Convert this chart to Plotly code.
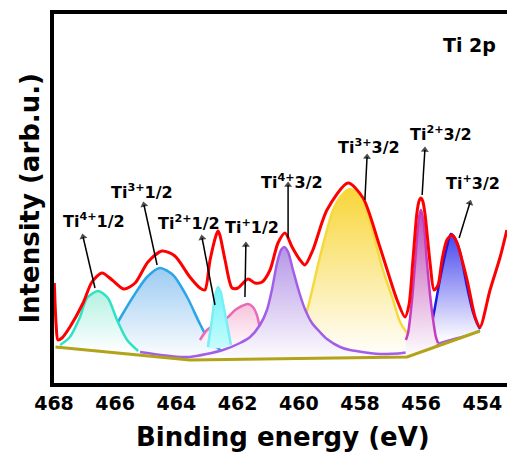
import plotly.graph_objects as go

# ---------------- data ----------------
tick_vals = [468, 466, 464, 462, 460, 458, 456, 454]
tick_text = ["468", "466", "464", "462", "460", "458", "456", "454"]

# background (olive)
bg_ev = [467.95, 463.56, 456.46, 454.08]
bg_int = [35, 22, 25, 51]

# Envelope (red)
env_ev = [467.99, 467.97, 467.93, 467.87, 467.74, 467.48, 467.05, 466.76, 466.43, 466.10,
          465.71, 465.35, 464.93, 464.47, 464.05, 463.56, 463.23, 463.07, 462.90, 462.70,
          462.64, 462.58, 462.41, 462.18, 461.99, 461.66, 461.43, 461.20, 460.94, 460.68,
          460.45, 460.22, 459.96, 459.80, 459.54, 459.08, 458.39, 457.90, 457.35, 456.79,
          456.53, 456.40, 456.27, 456.14, 456.07, 456.01, 455.95, 455.88, 455.71, 455.58,
          455.45, 455.32, 455.16, 454.99, 454.83, 454.50, 454.24, 454.08, 453.75, 453.42,
          453.20]
env_int = [99, 82, 57, 42, 44, 55, 79, 100, 109, 102,
           93, 99, 120, 131, 126, 105, 94, 92, 122, 147,
           151, 147, 122, 94, 94, 103, 99, 100, 112, 139,
           149, 135, 122, 117, 132, 172, 199, 184, 135, 82,
           65, 77, 122, 169, 181, 184, 181, 169, 119, 92,
           97, 122, 142, 147, 139, 102, 65, 55, 92, 125,
           152]

# Components
ti4_12_ev = [467.80, 467.48, 467.15, 466.92, 466.56, 466.24, 465.94, 465.61, 465.25]
ti4_12_int = [37, 45, 65, 84, 91, 84, 62, 42, 31]

ti3_12_ev = [466.59, 466.24, 465.91, 465.42, 464.96, 464.54, 464.11, 463.65, 463.23, 462.90, 462.51]
ti3_12_int = [32, 42, 60, 85, 105, 114, 107, 85, 58, 40, 31]

ti2_12_ev = [462.97, 462.84, 462.74, 462.68, 462.64, 462.60, 462.54, 462.48, 462.35, 462.22]
ti2_12_int = [35, 62, 85, 92, 95, 93, 89, 79, 59, 37]

ti1_12_ev = [463.23, 463.00, 462.58, 462.31, 462.08, 461.86, 461.66, 461.50, 461.37, 461.27, 461.17]
ti1_12_int = [42, 52, 60, 65, 72, 76, 78, 75, 67, 54, 40]

ti4_32_ev = [465.19, 464.21, 463.56, 462.48, 461.92, 461.59, 461.27, 461.04, 460.88, 460.71,
             460.58, 460.48, 460.35, 460.19, 459.99, 459.80, 459.57, 459.31, 459.08, 458.65,
             458.33, 457.25, 456.37, 455.48, 454.73, 454.08]
ti4_32_int = [30, 26, 25, 32, 39, 45, 57, 72, 92, 119,
              132, 135, 130, 112, 90, 73, 59, 50, 43, 35,
              32, 28, 30, 38, 45, 52]

ti3_32_ev = [460.09, 459.86, 459.73, 459.31, 458.88, 458.59, 458.33, 458.07, 457.77, 457.25,
             456.92, 456.69, 456.46, 456.20, 456.04, 455.61, 455.48]
ti3_32_int = [42, 64, 72, 125, 172, 187, 193, 187, 169, 112,
              82, 60, 49, 42, 37, 35, 36]

ti2_32_ev = [456.50, 456.43, 456.30, 456.20, 456.10, 456.05, 456.01, 455.97, 455.91, 455.81,
             455.71, 455.61, 455.52, 455.45]
ti2_32_int = [42, 49, 82, 119, 157, 168, 172, 168, 157, 119,
              87, 62, 45, 39]

ti1_32_ev = [455.78, 455.61, 455.39, 455.16, 455.03, 454.90, 454.73, 454.50, 454.31, 454.18, 454.08]
ti1_32_int = [42, 65, 102, 135, 148, 144, 130, 95, 70, 59, 53]

# labels and arrows
label_text = ["Ti<sup>4+</sup>1/2", "Ti<sup>3+</sup>1/2", "Ti<sup>2+</sup>1/2", "Ti<sup>+</sup>1/2",
              "Ti<sup>4+</sup>3/2", "Ti<sup>3+</sup>3/2", "Ti<sup>2+</sup>3/2", "Ti<sup>+</sup>3/2"]
label_x = [466.69, 465.12, 463.59, 461.53, 460.22, 457.71, 455.35, 454.31]
label_y = [162, 191, 160, 156, 201, 236, 249, 200]
head_x = [467.05, 465.06, 463.16, 461.73, 460.35, 457.77, 455.88, 454.41]
head_y = [145, 177, 144, 137, 197, 225, 232, 179]
tail_x = [466.66, 464.63, 462.74, 461.76, 460.35, 457.84, 455.97, 454.76]
tail_y = [94, 117, 77, 85, 144, 182, 187, 144]

FONT = "DejaVu Sans"
SMOOTH = 0.75

fig = go.Figure()


def base_path(xs):
    lo, hi = min(xs), max(xs)
    pts = sorted((e, v) for e, v in zip(bg_ev, bg_int) if lo < e < hi)
    return [p[0] for p in pts], [p[1] for p in pts]


def add_component(xs, ys, line_col, top_col, bot_col="#ffffff", lw=2.5):
    bx, by = base_path(xs)
    fig.add_trace(go.Scatter(
        x=list(xs) + bx + [xs[0]], y=list(ys) + by + [ys[0]],
        mode="lines", line=dict(width=0, shape="spline", smoothing=SMOOTH),
        fill="toself",
        fillgradient=dict(type="vertical", colorscale=[[0, bot_col], [1, top_col]]),
        hoverinfo="skip", showlegend=False))
    fig.add_trace(go.Scatter(
        x=xs, y=ys, mode="lines",
        line=dict(color=line_col, width=lw, shape="spline", smoothing=SMOOTH),
        hoverinfo="skip", showlegend=False))


add_component(ti3_12_ev, ti3_12_int, "#2aa6e6", "#9ccbf2")
add_component(ti4_12_ev, ti4_12_int, "#2de3c4", "#b4f1e2")
add_component(ti1_12_ev, ti1_12_int, "#e86bbb", "#f6c4dc", "#fff6fa")
add_component(ti2_12_ev, ti2_12_int, "#78eef6", "#6ff4f8", "#c8fcfc")
add_component(ti3_32_ev, ti3_32_int, "#f6da3c", "#f8d63a")
add_component(ti4_32_ev, ti4_32_int, "#a25ee6", "#b596e6")
add_component(ti1_32_ev, ti1_32_int, "#1818e8", "#4646ee")
add_component(ti2_32_ev, ti2_32_int, "#c63cc0", "#c04ab6")

fig.add_trace(go.Scatter(x=bg_ev, y=bg_int, mode="lines",
                         line=dict(color="#b3a318", width=3),
                         hoverinfo="skip", showlegend=False))
fig.add_trace(go.Scatter(x=env_ev, y=env_int, mode="lines",
                         line=dict(color="#ff0000", width=3, shape="spline", smoothing=SMOOTH),
                         hoverinfo="skip", showlegend=False))

# arrows: shaft + filled triangular head oriented along the shaft
for hx, hy, tx, ty in zip(head_x, head_y, tail_x, tail_y):
    fig.add_trace(go.Scatter(
        x=[tx, hx], y=[ty, hy], mode="lines+markers",
        line=dict(color="black", width=1.5),
        marker=dict(symbol=["circle", "triangle-up"], size=[0, 7], color="black",
                    angleref="previous", line=dict(width=0)),
        hoverinfo="skip", showlegend=False))

annotations = []
for t, lx, ly in zip(label_text, label_x, label_y):
    annotations.append(dict(x=lx, y=ly, xref="x", yref="y", text=t, showarrow=False,
                            font=dict(family=FONT, size=16, color="black", weight="bold"),
                            xanchor="center", yanchor="middle"))
annotations.append(dict(x=454.41, y=337, xref="x", yref="y", text="Ti 2p", showarrow=False,
                        font=dict(family=FONT, size=19, color="black", weight="bold"),
                        xanchor="center", yanchor="middle"))
annotations.append(dict(x=0.5055, y=-0.145, xref="paper", yref="paper",
                        text="Binding energy (eV)", showarrow=False,
                        font=dict(family=FONT, size=26, color="black", weight="bold"),
                        xanchor="center", yanchor="middle"))
annotations.append(dict(x=-0.055, y=0.5, xref="paper", yref="paper",
                        text="Intensity (arb.u.)", showarrow=False, textangle=-90,
                        font=dict(family=FONT, size=26, color="black", weight="bold"),
                        xanchor="center", yanchor="middle"))

fig.update_layout(
    width=507, height=453,
    margin=dict(l=54, r=0, t=14, b=70),
    paper_bgcolor="white", plot_bgcolor="white",
    annotations=annotations,
    xaxis=dict(range=[468, 453.196], tickvals=tick_vals, ticktext=tick_text,
               showgrid=False, zeroline=False, showline=True, linecolor="black",
               linewidth=4, mirror=True, ticks="",
               tickfont=dict(family=FONT, size=19, color="black", weight="bold")),
    yaxis=dict(range=[-1, 368], showgrid=False, zeroline=False, showline=True,
               linecolor="black", linewidth=4, mirror=False, ticks="",
               showticklabels=False),
)

fig.write_html("out.html")
